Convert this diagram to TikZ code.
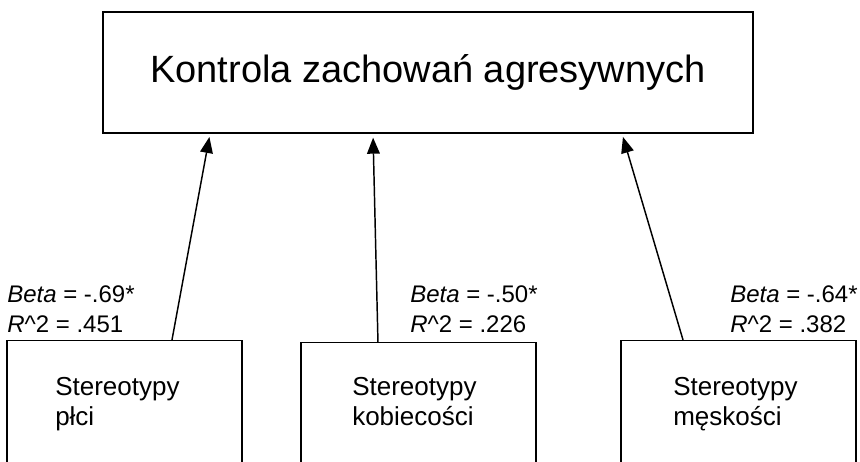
\documentclass[tikz,border=0pt]{standalone}
\usepackage{fontspec}
\setmainfont{Liberation Sans}
\usetikzlibrary{arrows.meta}

\begin{document}
\begin{tikzpicture}[x=0.75pt,y=-0.75pt,
        ramka/.style={draw,line width=1pt,rectangle,inner sep=0pt},
        dolna/.style={ramka,minimum width=176.25pt,minimum height=150pt,anchor=north},
        opis/.style={anchor=north west,inner sep=0pt,align=left,font=\fontsize{19.5}{22.5}\selectfont},
        stat/.style={anchor=north west,inner sep=0pt,align=left,font=\fontsize{18}{22.5}\selectfont},
        strzalka/.style={line width=1.1pt,shorten >=2.5pt,-{Triangle[length=12pt,width=9.5pt]}}]
        \useasboundingbox (0,0) rectangle (860,461);
        % Zmienna zalezna
        \node[ramka,minimum width=487.5pt,minimum height=90.75pt,font=\fontsize{28.5}{34}\selectfont]
            (kontrola) at (428,72.5) {Kontrola zachowań agresywnych};
        % Predyktory
        \node[dolna] (plec) at (124.5,340) {};
        \node[dolna] (kob) at (418.5,342) {};
        \node[dolna] (mesk) at (738.5,340) {};
        \node[opis] (plecT) at (55,377) {Stereotypy\\płci};
        \node[opis] (kobT) at (352,377) {Stereotypy\\kobiecości};
        \node[opis] (meskT) at (673,377) {Stereotypy\\męskości};
        % Wspolczynniki
        \node[stat] (plecS) at (7,285) {\textit{Beta} = -.69*\\\textit{R}\textasciicircum2 = .451};
        \node[stat] (kobS) at (410,285) {\textit{Beta} = -.50*\\\textit{R}\textasciicircum2 = .226};
        \node[stat] (meskS) at (730,285) {\textit{Beta} = -.64*\\\textit{R}\textasciicircum2 = .382};
        % Sciezki
        \draw[strzalka] ([xshift=35.6pt]plec.north) -- ([xshift=-163.5pt]kontrola.south);
        \draw[strzalka] ([xshift=-30.4pt]kob.north) -- ([xshift=-41.25pt,yshift=-0.5pt]kontrola.south);
        \draw[strzalka] ([xshift=-41.6pt]mesk.north) -- ([xshift=145.5pt]kontrola.south);
    \end{tikzpicture}
\end{document}
